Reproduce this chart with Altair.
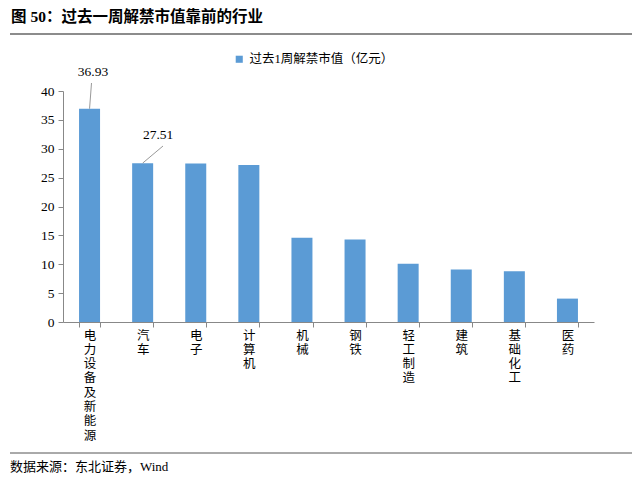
import altair as alt
import pandas as pd

categories = ["电力设备及新能源", "汽车", "电子", "计算机", "机械", "钢铁", "轻工制造", "建筑", "基础化工", "医药"]
values = [36.93, 27.51, 27.45, 27.2, 14.6, 14.3, 10.1, 9.1, 8.8, 4.05]
series_name = "过去1周解禁市值（亿元）"
ann_cats = ["电力设备及新能源", "汽车"]
ann_vals = [36.93, 27.51]
ann_text = ["36.93", "27.51"]
y_ticks = [0, 5, 10, 15, 20, 25, 30, 35, 40]
title_text = "图  50：过去一周解禁市值靠前的行业"
source_text = "数据来源：东北证券，Wind"

BLUE = "#5B9BD5"
FONT = "Liberation Serif, Noto Sans CJK SC"

df = pd.DataFrame({"cat": categories, "val": values, "series": [series_name] * len(categories)})
ann = pd.DataFrame({"cat": ann_cats, "val": ann_vals, "txt": ann_text})

x_enc = alt.X("cat:N", sort=categories, scale=alt.Scale(paddingInner=0.6, paddingOuter=0.3),
              axis=alt.Axis(title=None, labelAngle=0, labelExpr="split(datum.label, '')",
                            labelLineHeight=14.3, labelBaseline="top", labelAlign="center",
                            tickBand="extent", tickSize=5, labelPadding=2, labelOverlap=False,
                            labelFont=FONT, labelFontSize=12.5, labelColor="#000",
                            domainColor="#888", tickColor="#888"))
y_enc = alt.Y("val:Q", scale=alt.Scale(domain=[0, 40], nice=False),
              axis=alt.Axis(title=None, values=y_ticks, tickCount=20, grid=False, labelOverlap=False,
                            tickSize=5, labelPadding=4, labelFont=FONT, labelFontSize=13.5,
                            labelColor="#000", domainColor="#888", tickColor="#888"))

bars = alt.Chart(df).mark_bar(size=21).encode(
    x=x_enc, y=y_enc,
    color=alt.Color("series:N", scale=alt.Scale(range=[BLUE]),
                    legend=alt.Legend(title=None, orient="none", legendX=170, legendY=-38,
                                      symbolType="square", symbolSize=50, symbolStrokeWidth=0,
                                      labelFont=FONT, labelFontSize=12.5, labelColor="#000")))

ann1 = ann.iloc[[0]]
ann2 = ann.iloc[[1]]
lead1 = alt.Chart(ann1).mark_rule(color="#999", strokeWidth=1).encode(
    x=x_enc, y=y_enc, x2=alt.value(28.5), y2=alt.value(-8))
lead2 = alt.Chart(ann2).mark_rule(color="#999", strokeWidth=1).encode(
    x=x_enc, y=y_enc, x2=alt.value(100), y2=alt.value(55))
txt1 = alt.Chart(ann1).mark_text(font=FONT, fontSize=13.5, dx=3.5, dy=-37, color="#000").encode(
    x=x_enc, y=y_enc, text="txt:N")
txt2 = alt.Chart(ann2).mark_text(font=FONT, fontSize=13.5, dx=15.5, dy=-28, color="#000").encode(
    x=x_enc, y=y_enc, text="txt:N")

one = pd.DataFrame({"t": [title_text]})
title = alt.Chart(one).mark_text(font=FONT, fontSize=15.5, fontWeight="bold", align="left",
                                 baseline="middle", color="#000").encode(
    x=alt.value(-52), y=alt.value(-74), text="t:N")
top_rule = alt.Chart(one).mark_rule(color="#8c8c8c", strokeWidth=2).encode(
    x=alt.value(-53), x2=alt.value(569), y=alt.value(-57))
src = pd.DataFrame({"t": [source_text]})
source = alt.Chart(src).mark_text(font=FONT, fontSize=13, align="left", baseline="middle",
                                  color="#000").encode(
    x=alt.value(-53), y=alt.value(376), text="t:N")
bot_rule = alt.Chart(src).mark_rule(color="#555", strokeWidth=1).encode(
    x=alt.value(-53), x2=alt.value(569), y=alt.value(362))

chart = alt.layer(bars, lead1, lead2, txt1, txt2, title, top_rule, source, bot_rule).properties(
    width=531, height=231, autosize="none",
    padding={"left": 63, "top": 91, "right": 46, "bottom": 164},
    background="white"
).configure_view(stroke=None)

chart.save("out.html", embed_options={"renderer": "svg", "actions": False})
